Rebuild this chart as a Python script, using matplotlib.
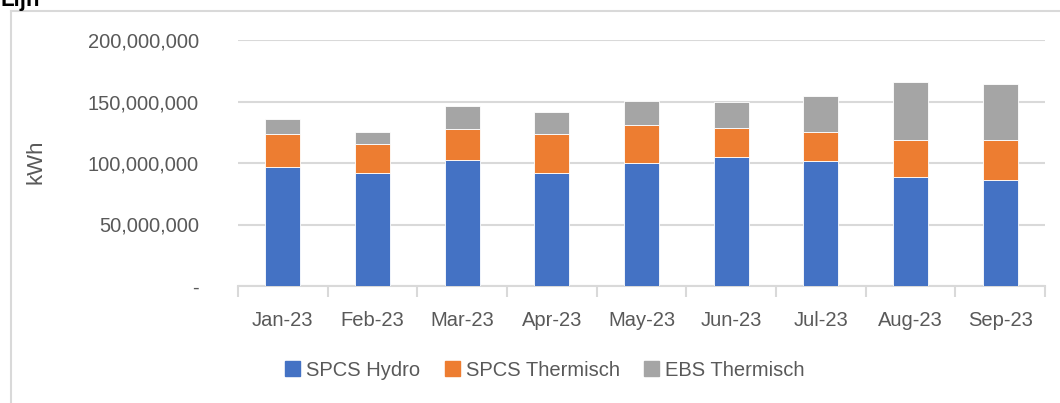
import matplotlib

matplotlib.use("Agg")
import matplotlib.pyplot as plt
from matplotlib.patches import Rectangle
from matplotlib.ticker import FuncFormatter, MultipleLocator
from matplotlib.lines import Line2D
import numpy as np

months = ["Jan-23", "Feb-23", "Mar-23", "Apr-23", "May-23", "Jun-23", "Jul-23", "Aug-23", "Sep-23"]
spcs_hydro = [96.8e6, 91.9e6, 102.7e6, 91.9e6, 100.2e6, 104.5e6, 101.9e6, 88.3e6, 86.2e6]
spcs_thermisch = [26.7e6, 23.5e6, 25.3e6, 31.3e6, 30.6e6, 23.9e6, 23.7e6, 30.0e6, 32.4e6]
ebs_thermisch = [12.2e6, 10.0e6, 18.2e6, 18.4e6, 19.7e6, 21.3e6, 29.2e6, 47.3e6, 45.4e6]
series_names = ["SPCS Hydro", "SPCS Thermisch", "EBS Thermisch"]
colors = ["#4472C4", "#ED7D31", "#A5A5A5"]

plt.rcParams["font.family"] = ["Liberation Sans", "DejaVu Sans"]
TXT = "#595959"
GRID = "#D9D9D9"

W, H = 1060, 403
fig = plt.figure(figsize=(W / 100, H / 100), dpi=100)
# plot area in pixels: x 238..1045, y 40..286
ax = fig.add_axes([238 / W, 1 - 286 / H, (1045 - 238) / W, (286 - 40) / H])

x = np.arange(len(months))
bottom = np.zeros(len(months))
for name, vals, col in zip(series_names, [spcs_hydro, spcs_thermisch, ebs_thermisch], colors):
    ax.bar(x, vals, 0.39, bottom=bottom, color=col, edgecolor="white", linewidth=0.6, label=name, zorder=3)
    bottom += np.array(vals)

ax.set_xlim(-0.5, len(months) - 0.5)
ax.set_ylim(0, 200e6)
ax.yaxis.set_major_locator(MultipleLocator(50e6))
ax.yaxis.set_major_formatter(FuncFormatter(lambda v, p: "-" if v == 0 else f"{v:,.0f}"))
ax.grid(axis="y", color=GRID, linewidth=1.5, zorder=0)
for s in ["top", "right", "left"]:
    ax.spines[s].set_visible(False)
ax.spines["bottom"].set_color(GRID)
ax.spines["bottom"].set_linewidth(1.5)

ax.set_xticks(x)
ax.set_xticklabels(months)
ax.tick_params(axis="x", length=0, pad=18, labelsize=14.5, labelcolor=TXT)
ax.tick_params(axis="y", length=0, pad=28, labelsize=14.5, labelcolor=TXT)
ax.set_xticks(np.arange(-0.5, len(months)), minor=True)
ax.tick_params(axis="x", which="minor", length=8, width=1.5, color=GRID)

fig.text(36 / W, 1 - 162 / H, "kWh", rotation=90, ha="center", va="center", fontsize=16, color=TXT)

handles = [Rectangle((0, 0), 1, 1, color=c) for c in colors]
fig.legend(handles, series_names, loc="center", bbox_to_anchor=(545 / W, 1 - 370 / H), ncol=3,
           frameon=False, fontsize=14.5, labelcolor=TXT, handlelength=0.75, handleheight=0.8,
           handletextpad=0.3, columnspacing=1.2)

# chart frame (top and left edges visible)
fig.add_artist(Line2D([10.5 / W, 1], [1 - 10.5 / H] * 2, color=GRID, linewidth=1.5))
fig.add_artist(Line2D([10.5 / W] * 2, [0, 1 - 10.5 / H], color=GRID, linewidth=1.5))

# heading above the chart, cut off by the top edge as in the source
fig.text(1 / W, 1 - 6 / H, "Lijn", ha="left", va="baseline", fontsize=16, color="black", fontweight="bold")

fig.savefig("out.png", dpi=100)
